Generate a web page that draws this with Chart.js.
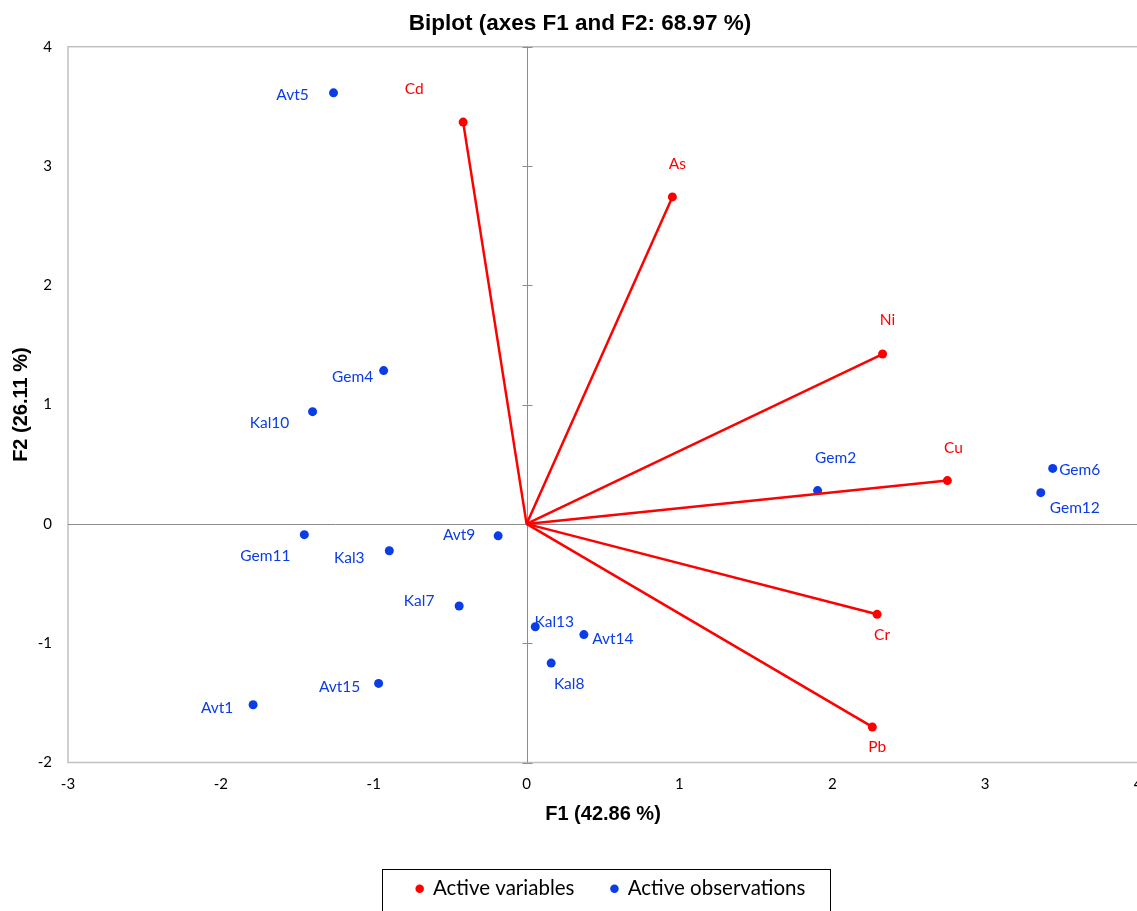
<!DOCTYPE html>
<html>
<head>
<meta charset="utf-8">
<title>Biplot (axes F1 and F2)</title>
<script src="https://cdn.jsdelivr.net/npm/chart.js@4.4.1/dist/chart.umd.min.js"></script>
<style>
  html, body { margin: 0; padding: 0; background: #fff; overflow: hidden; }
  #frame { width: 1137px; height: 911px; overflow: hidden; }
  #wrap { width: 1160px; height: 911px; }
</style>
</head>
<body>
<div id="frame"><div id="wrap"><canvas id="biplot"></canvas></div></div>
<script>
// ---- values ----
const varNames = ['Cd', 'As', 'Ni', 'Cu', 'Cr', 'Pb'];
const varF1 = [-0.415, 0.954, 2.329, 2.753, 2.293, 2.262];
const varF2 = [3.368, 2.741, 1.424, 0.363, -0.758, -1.702];

const obsNames = ['Avt1', 'Gem2', 'Kal3', 'Gem4', 'Avt5', 'Gem6', 'Kal7', 'Kal8',
                  'Avt9', 'Kal10', 'Gem11', 'Gem12', 'Kal13', 'Avt14', 'Avt15'];
const obsF1 = [-1.789, 1.904, -0.898, -0.935, -1.263, 3.442, -0.441, 0.161,
               -0.186, -1.400, -1.454, 3.364, 0.057, 0.375, -0.968];
const obsF2 = [-1.516, 0.279, -0.225, 1.285, 3.613, 0.465, -0.688, -1.167,
               -0.100, 0.941, -0.090, 0.262, -0.862, -0.928, -1.337];

const xTicks = [-3, -2, -1, 0, 1, 2, 3, 4];
const yTicks = [-2, -1, 0, 1, 2, 3, 4];

// label placement (pixel offset of the text centre from its point)
const varLabelOffset = [[-49, -33], [5, -33], [5, -34], [6, -33], [5, 21], [5, 20]];
const obsLabelOffset = [[-36, 3], [18, -33], [-40, 7], [-31, 6], [-41, 2], [27, 2], [-40, -5], [18, 21],
                        [-39, -1], [-43, 11], [-39, 21], [34, 15], [19, -5], [29, 4], [-39, 4]];

const RED = '#ff0000';
const BLUE = '#0a3ce8';
const TITLE_FONT = 'Liberation Sans, Arial, sans-serif';

Chart.defaults.font.family = 'Lato, sans-serif';
Chart.defaults.color = '#000';

// frame + axes crossing at the origin
const axesCross = {
  id: 'axesCross',
  beforeDatasetsDraw(chart) {
    const { ctx, chartArea: a, scales: { x, y } } = chart;
    const x0 = Math.round(x.getPixelForValue(0)) + 0.5;
    const y0 = Math.round(y.getPixelForValue(0)) + 0.5;
    ctx.save();
    ctx.strokeStyle = '#c0c0c0';
    ctx.lineWidth = 1.5;
    ctx.strokeRect(a.left, a.top, a.right - a.left, a.bottom - a.top);
    ctx.strokeStyle = '#8c8c8c';
    ctx.lineWidth = 1;
    ctx.beginPath();
    ctx.moveTo(a.left, y0); ctx.lineTo(a.right, y0);
    ctx.moveTo(x0, a.top); ctx.lineTo(x0, a.bottom);
    yTicks.forEach(v => {
      const py = Math.round(y.getPixelForValue(v)) + 0.5;
      ctx.moveTo(x0 - 5, py); ctx.lineTo(x0 + 5, py);
    });
    ctx.stroke();
    ctx.restore();
  }
};

// names next to the points
const pointNames = {
  id: 'pointNames',
  afterDatasetsDraw(chart) {
    const { ctx, scales: { x, y } } = chart;
    ctx.save();
    ctx.font = '15.5px Lato, sans-serif';
    ctx.textAlign = 'center';
    ctx.textBaseline = 'middle';
    ctx.fillStyle = BLUE;
    obsNames.forEach((n, i) => {
      ctx.fillText(n, x.getPixelForValue(obsF1[i]) + obsLabelOffset[i][0],
                      y.getPixelForValue(obsF2[i]) + obsLabelOffset[i][1]);
    });
    ctx.fillStyle = RED;
    varNames.forEach((n, i) => {
      ctx.fillText(n, x.getPixelForValue(varF1[i]) + varLabelOffset[i][0],
                      y.getPixelForValue(varF2[i]) + varLabelOffset[i][1]);
    });
    ctx.restore();
  }
};

// nudge title / legend to the original centring and box the legend
const legendBox = {
  id: 'legendBox',
  afterLayout(chart) {
    chart.titleBlock.left += 11; chart.titleBlock.right += 11;
    chart.legend.left += 42; chart.legend.right += 42;
  },
  afterDraw(chart) {
    const boxes = chart.legend.legendHitBoxes;
    if (!boxes || !boxes.length) return;
    const first = boxes[0], last = boxes[boxes.length - 1];
    const l = Math.round(first.left - 35) + 0.5;
    const r = Math.round(last.left + last.width + 25) + 0.5;
    const t = Math.round(first.top - 10) + 0.5;
    const { ctx } = chart;
    ctx.save();
    ctx.strokeStyle = '#000';
    ctx.lineWidth = 1;
    ctx.strokeRect(l, t, r - l, 80);
    ctx.restore();
  }
};

function draw() {
  const vectorSets = varNames.map((n, i) => ({
    label: n,
    data: [{ x: 0, y: 0 }, { x: varF1[i], y: varF2[i] }],
    showLine: true,
    borderColor: RED,
    borderWidth: 2.5,
    pointRadius: 0,
    order: 2
  }));

  new Chart(document.getElementById('biplot'), {
    type: 'scatter',
    data: {
      datasets: [
        {
          label: 'Active variables',
          data: varF1.map((v, i) => ({ x: v, y: varF2[i] })),
          backgroundColor: RED,
          borderColor: RED,
          borderWidth: 0,
          pointRadius: 4.5,
          order: 1
        },
        ...vectorSets,
        {
          label: 'Active observations',
          data: obsF1.map((v, i) => ({ x: v, y: obsF2[i] })),
          backgroundColor: BLUE,
          borderColor: BLUE,
          borderWidth: 0,
          pointRadius: 4.5,
          order: 3
        }
      ]
    },
    options: {
      responsive: true,
      maintainAspectRatio: false,
      animation: false,
      layout: { padding: { left: 0, right: 22, top: 0, bottom: 2 } },
      plugins: {
        tooltip: { enabled: false },
        title: {
          display: true,
          text: 'Biplot (axes F1 and F2: 68.97 %)',
          color: '#000',
          font: { family: TITLE_FONT, size: 22.5, weight: 'bold' },
          padding: { top: 10, bottom: 9.7 }
        },
        legend: {
          display: true,
          position: 'bottom',
          labels: {
            filter: item => item.text.startsWith('Active'),
            usePointStyle: true,
            pointStyle: 'circle',
            boxWidth: 6,
            boxHeight: 6,
            padding: 37,
            color: '#000',
            font: { size: 20.5 }
          }
        }
      },
      scales: {
        x: {
          type: 'linear',
          min: xTicks[0],
          max: xTicks[xTicks.length - 1],
          afterBuildTicks: s => { s.ticks = xTicks.map(v => ({ value: v })); },
          ticks: { padding: 13, color: '#000', font: { size: 15 } },
          grid: { display: false, drawTicks: false },
          border: { display: false },
          title: {
            display: true,
            text: 'F1 (42.86 %)',
            color: '#000',
            font: { family: TITLE_FONT, size: 20, weight: 'bold' },
            padding: { top: 4, bottom: 15 }
          },
          afterFit: s => { s.height = 79; }
        },
        y: {
          type: 'linear',
          min: yTicks[0],
          max: yTicks[yTicks.length - 1],
          afterBuildTicks: s => { s.ticks = yTicks.map(v => ({ value: v })); },
          ticks: { padding: 16, color: '#000', font: { size: 15 } },
          grid: { display: false, drawTicks: false },
          border: { display: false },
          title: {
            display: true,
            text: 'F2 (26.11 %)',
            color: '#000',
            font: { family: TITLE_FONT, size: 20, weight: 'bold' },
            padding: { top: 9, bottom: 0 }
          },
          afterFit: s => { s.width = 68; }
        }
      }
    },
    plugins: [axesCross, pointNames, legendBox]
  });
}

Promise.all([
  document.fonts.load('15px Lato'),
  document.fonts.load('bold 20px "Liberation Sans"')
]).then(draw, draw);
</script>
</body>
</html>
